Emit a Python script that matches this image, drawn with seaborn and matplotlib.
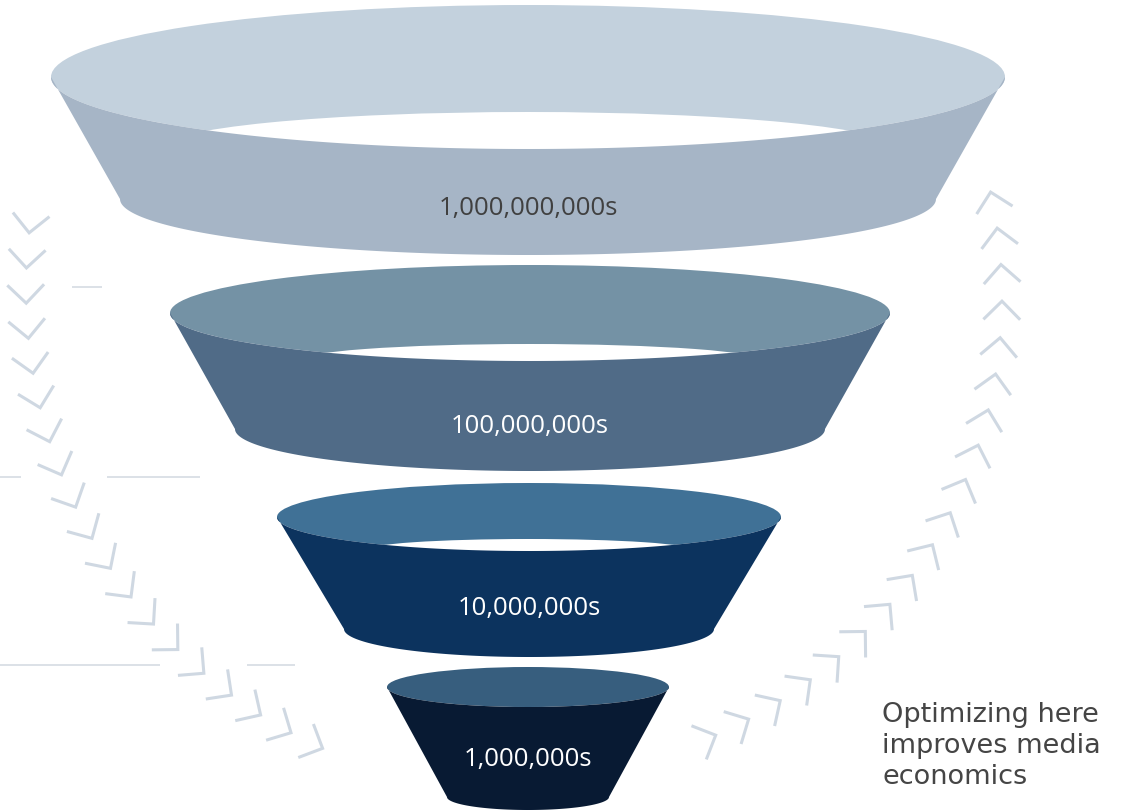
import numpy as np
import matplotlib
matplotlib.use("Agg")
import matplotlib.pyplot as plt
from matplotlib.patches import Ellipse, Polygon
import seaborn as sns

# ---------------- data ----------------
levels = ["1,000,000,000s", "100,000,000s", "10,000,000s", "1,000,000s"]
audience = [1_000_000_000, 100_000_000, 10_000_000, 1_000_000]
caption_lines = ["Optimizing here", "improves media", "economics"]

# ---------------- layout (pixel space, y down) ----------------
cx       = [528, 530, 529, 528]
top_cy   = [78, 314, 518, 688]
top_a    = [477, 360, 252, 141]
top_b    = [72, 48, 34, 20]
bot_cy   = [200, 430, 630, 798]
bot_a    = [408, 295, 185, 81]
bot_b    = [56, 42, 28, 13]
hole_cy  = [149, 362, 551, 0]
hole_a   = [366, 233, 163, 0]
hole_b   = [36, 17, 11, 0]
label_y  = [209, 427, 609, 760]

rim_colors  = ["#c3d1dd", "#7492a5", "#407196", "#375e7e"]
body_colors = ["#a6b5c6", "#506b87", "#0c335e", "#081a33"]
label_colors = ["#404040", "#ffffff", "#ffffff", "#ffffff"]
chev_color = "#cfd8e2"
rule_color = "#d9dee5"

sns.set_theme(style="white")
palette = sns.color_palette(body_colors)

W, H = 1127, 812
fig = plt.figure(figsize=(W / 100, H / 100), dpi=100)
ax = fig.add_axes([0, 0, 1, 1])
ax.set_xlim(0, W)
ax.set_ylim(H, 0)
ax.axis("off")

# faint horizontal rules
rules = [(288, 72, 102), (478, 0, 21), (478, 107, 200), (666, 0, 160), (666, 247, 295)]
for y, x0, x1 in rules:
    ax.plot([x0, x1], [y, y], color=rule_color, lw=1.3, solid_capstyle="butt", zorder=1)

# chevrons along arcs
def chevron(x, y, theta, L=26, half=45):
    pts = []
    for s in (-1, 1):
        a = np.deg2rad(theta + 180 + s * half)
        pts.append((x + L * np.cos(a), y - L * np.sin(a)))
    xs = [pts[0][0], x, pts[1][0]]
    ys = [pts[0][1], y, pts[1][1]]
    ax.plot(xs, ys, color=chev_color, lw=2.2, solid_capstyle="butt",
            solid_joinstyle="miter", zorder=1)

def arc_chevrons(ccx, ccy, r, phi0, phi1, n):
    for phi in np.linspace(phi0, phi1, n):
        x = ccx + r * np.cos(np.deg2rad(phi))
        y = ccy - r * np.sin(np.deg2rad(phi))
        chevron(x, y, phi + 90)

arc_chevrons(530, 290, 504, 173.6, 245.7, 19)   # left: flowing down
arc_chevrons(522, 297, 480, -66.2, 12.5, 19)    # right: flowing up

# funnel layers
t = np.linspace(np.pi, 0, 200)
for i in range(len(levels)):
    z = 2 + i * 3
    ax.add_patch(Ellipse((cx[i], top_cy[i]), 2 * top_a[i], 2 * top_b[i],
                         facecolor=rim_colors[i], edgecolor="none", zorder=z))
    if hole_b[i] > 0:
        ax.add_patch(Ellipse((cx[i], hole_cy[i]), 2 * hole_a[i], 2 * hole_b[i],
                             facecolor="white", edgecolor="none", zorder=z + 0.5))
    top_x = cx[i] + top_a[i] * np.cos(t)
    top_y = top_cy[i] + top_b[i] * np.sin(t)
    bx = cx[i] + bot_a[i] * np.cos(t[::-1])
    by = bot_cy[i] + bot_b[i] * np.sin(t[::-1])
    poly = np.column_stack([np.concatenate([top_x, bx]), np.concatenate([top_y, by])])
    ax.add_patch(Polygon(poly, closed=True, facecolor=palette[i], edgecolor="none", zorder=z + 1))
    ax.text(cx[i], label_y[i], levels[i], ha="center", va="center",
            fontsize=18.5, family=["Open Sans", "DejaVu Sans"], color=label_colors[i], zorder=z + 2)

# caption
for k, line in enumerate(caption_lines):
    ax.text(882, 715 + k * 31, line, ha="left", va="center", fontsize=19.5,
            family=["DejaVu Sans"], color="#454545", zorder=20)

fig.savefig("out.png", dpi=100, facecolor="white")
